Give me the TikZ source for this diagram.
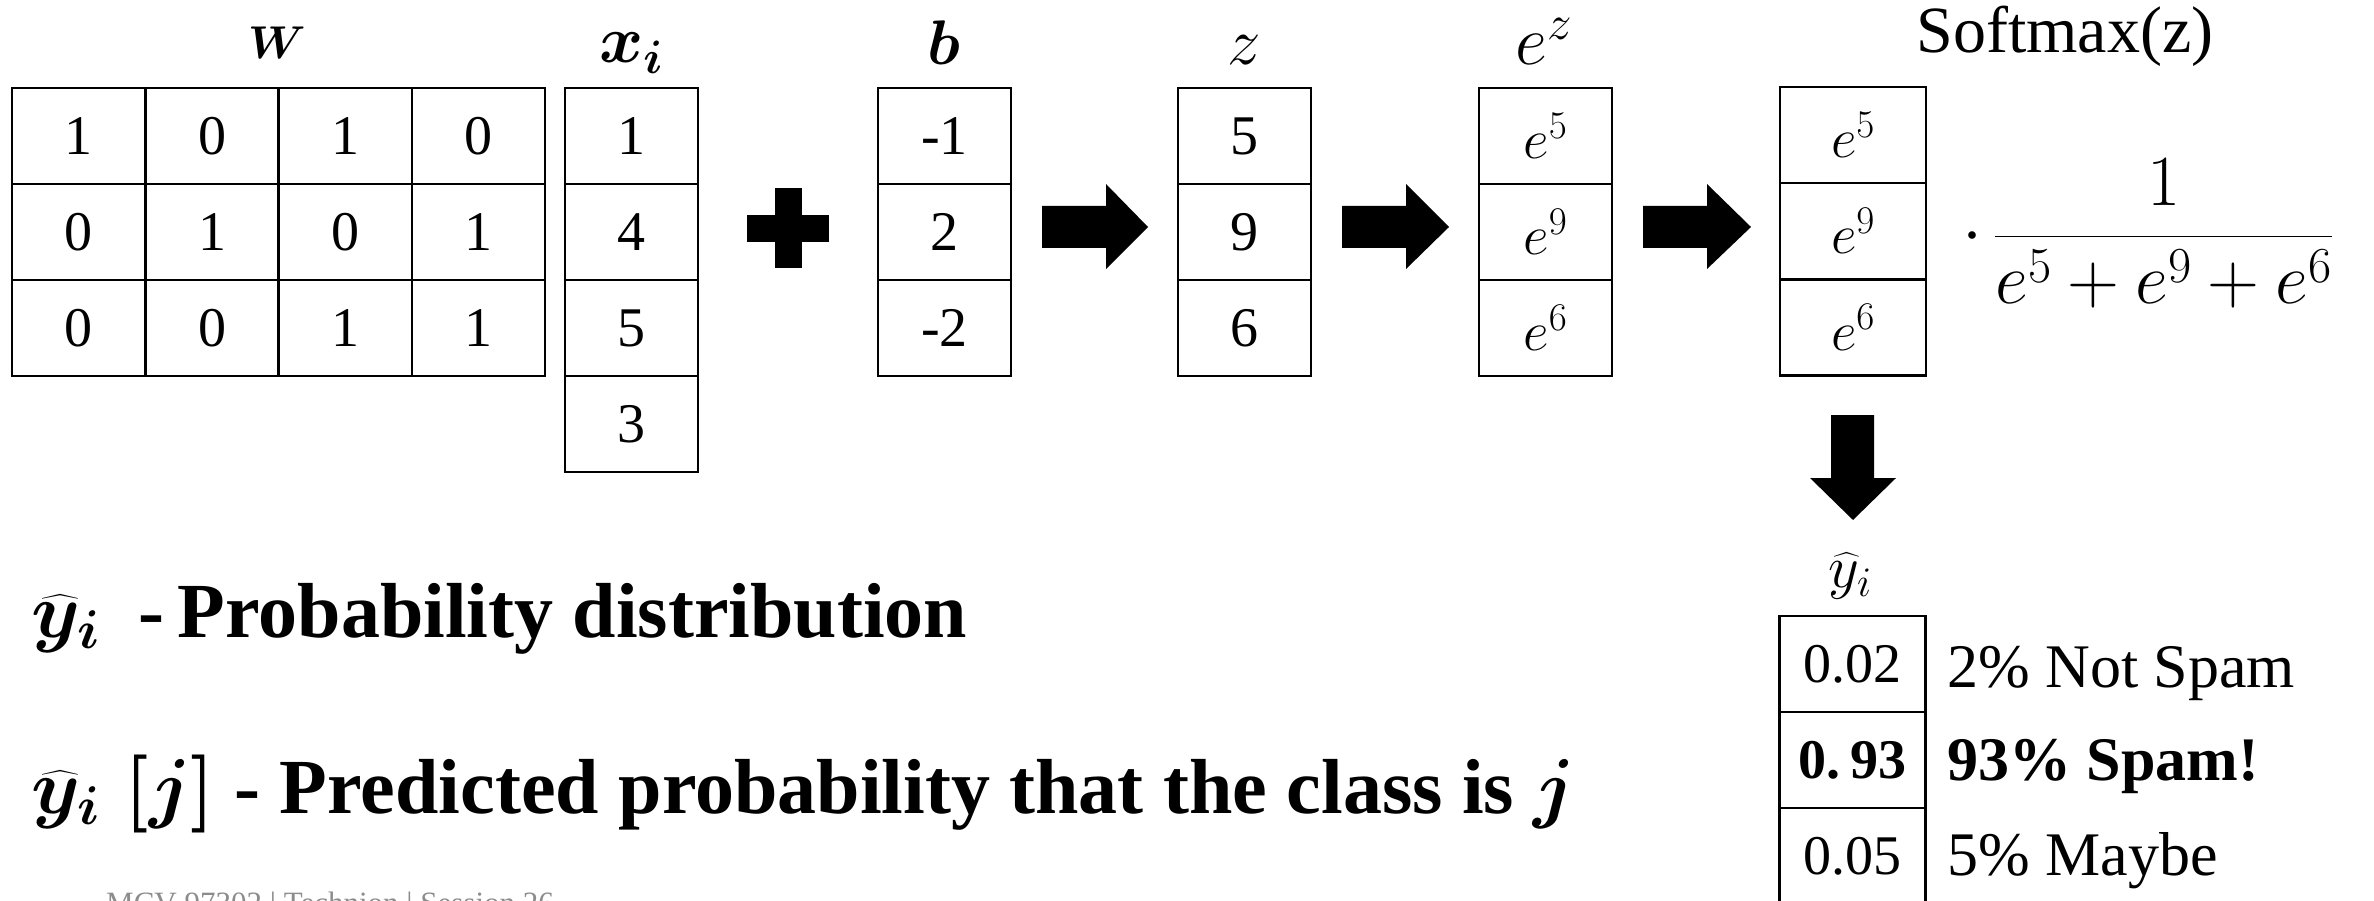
\RequirePackage{fix-cm}
\documentclass[tikz,border=0pt]{standalone}
\usepackage{amsmath,bm}
\usepackage{fontspec}
\setmainfont{Liberation Serif}
\newcommand{\cellfs}{\fontsize{56}{60}\selectfont}
\newcommand{\sidefs}{\fontsize{62}{66}\selectfont}
\newcommand{\bigfs}{\fontsize{78}{82}\selectfont}
\begin{document}
\begin{tikzpicture}[x=1pt,y=-1pt,
  cell/.style={draw,line width=2.2pt,minimum width=133,minimum height=96,inner sep=0pt,outer sep=0pt,font=\cellfs},
  wcell/.style={cell,minimum width=146},
  lab/.style={inner sep=0pt,anchor=base},
  side/.style={inner sep=0pt,anchor=base west,font=\sidefs},
  bigtext/.style={inner sep=0pt,anchor=base west,font=\bigfs\bfseries},
  blk/.style={fill=black}]
\useasboundingbox (0,0) rectangle (2374,901);
\fill[white] (0,0) rectangle (2374,901);

% W matrix
\node[cell] (w11) at (78.5,136) {1};
\node[cell] (w12) at (212,136) {0};
\node[cell] (w13) at (345.5,136) {1};
\node[cell] (w14) at (478.5,136) {0};
\node[cell] (w21) at (78.5,232) {0};
\node[cell] (w22) at (212,232) {1};
\node[cell] (w23) at (345.5,232) {0};
\node[cell] (w24) at (478.5,232) {1};
\node[cell] (w31) at (78.5,328) {0};
\node[cell] (w32) at (212,328) {0};
\node[cell] (w33) at (345.5,328) {1};
\node[cell] (w34) at (478.5,328) {1};
\node[lab,font=\fontsize{46}{50}\selectfont] (wlab) at (277,59) {$\bm{W}$};

% x_i
\node[cell] (x1) at (631.5,136) {1};
\node[cell] (x2) at (631.5,232) {4};
\node[cell] (x3) at (631.5,328) {5};
\node[cell] (x4) at (631.5,424) {3};
\node[lab,font=\fontsize{67}{70}\selectfont] (xlab) at (631,63) {$\bm{x_i}$};

% plus
\fill[blk] (747,215) rectangle (829,242);
\fill[blk] (775,188) rectangle (802,268);

% b
\node[cell] (b1) at (944.5,136) {-1};
\node[cell] (b2) at (944.5,232) {2};
\node[cell] (b3) at (944.5,328) {-2};
\node[lab,font=\fontsize{63}{66}\selectfont] (blab) at (944,65) {$\bm{b}$};

% arrow 1
\fill[blk] (1042,206) -- (1106,206) -- (1106,184) -- (1148,227) -- (1106,269) -- (1106,248) -- (1042,248) -- cycle;

% z
\node[cell] (z1) at (1244.5,136) {5};
\node[cell] (z2) at (1244.5,232) {9};
\node[cell] (z3) at (1244.5,328) {6};
\node[lab,font=\fontsize{67}{70}\selectfont] (zlab) at (1244,65) {$z$};

% arrow 2
\fill[blk] (1342,206) -- (1406,206) -- (1406,184) -- (1449,227) -- (1406,269) -- (1406,248) -- (1342,248) -- cycle;

% e^z
\node[cell] (e1) at (1545.5,136) {$e^5$};
\node[cell] (e2) at (1545.5,232) {$e^9$};
\node[cell] (e3) at (1545.5,328) {$e^6$};
\node[lab,font=\fontsize{70}{72}\selectfont] (elab) at (1544,65) {$e^z$};

% arrow 3
\fill[blk] (1643,206) -- (1707,206) -- (1707,184) -- (1751,227) -- (1707,269) -- (1707,248) -- (1643,248) -- cycle;

% softmax
\node[wcell] (s1) at (1853,135) {$e^5$};
\node[wcell] (s2) at (1853,231) {$e^9$};
\node[wcell] (s3) at (1853,327.5) {$e^6$};
\node[lab,font=\fontsize{66}{70}\selectfont] (slab) at (2065,53) {Softmax(z)};
\node[inner sep=0pt,anchor=base west,font=\fontsize{72}{74}\selectfont] (frac) at (1962,254)
  {$\cdot\mkern3mu\dfrac{1}{e^5+e^9+e^6}$};

% down arrow
\fill[blk] (1831,415) -- (1874,415) -- (1874,478) -- (1896,478) -- (1853,520) -- (1810,478) -- (1831,478) -- cycle;

% y hat
\node[inner sep=0pt,font=\fontsize{60}{64}\selectfont] (ylab) at (1850,576) {$\widehat{y}_i$};
\node[wcell] (y1) at (1852.5,664) {0.02};
\node[wcell] (y2) at (1852.5,760) {\bfseries 0.\,93};
\node[wcell] (y3) at (1852.5,856) {0.05};
\node[side] (t1) at (1947,687) {2\% Not Spam};
\node[side] (t2) at (1947,780) {\bfseries 93\% Spam!};
\node[side] (t3) at (1947,875) {5\% Maybe};

% bottom texts
\node[bigtext] (l1) at (31,637) {{\boldmath$\widehat{y}_i$}\ \ -\,Probability distribution};
\node[bigtext] (l2) at (31,813) {{\boldmath$\widehat{y}_i\;[j]$} - Predicted probability that the class is {\boldmath$j$}};

% footer
\node[inner sep=0pt,anchor=base west,font=\fontsize{31}{34}\selectfont,text=black!45] (foot) at (106,913) {MCV 97302 | Technion | Session 26};
\end{tikzpicture}
\end{document}
